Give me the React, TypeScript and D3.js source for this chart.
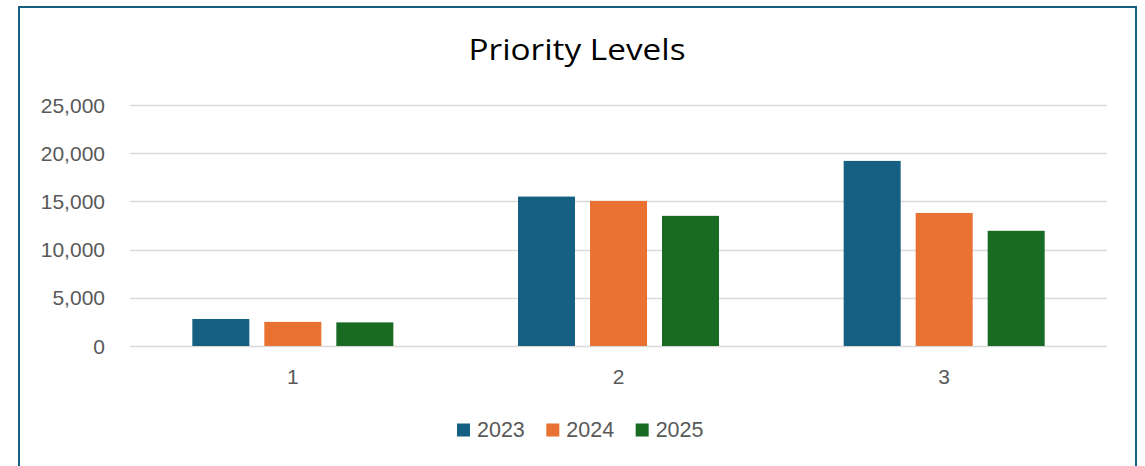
import React from "react";
import * as d3 from "d3";

const categories = ["1", "2", "3"];
const seriesNames = ["2023", "2024", "2025"];
const values2023 = [2800, 15500, 19200];
const values2024 = [2500, 15050, 13800];
const values2025 = [2450, 13500, 11950];
const seriesValues = [values2023, values2024, values2025];
const colors = ["#156082", "#E97132", "#196B24"];
const yTicks = [0, 5000, 10000, 15000, 20000, 25000];

const W = 1145;
const H = 466;
const plotLeft = 130;
const plotRight = 1107;
const plotTop = 105;
const plotBottom = 346;
const font = "'Liberation Sans', Arial, sans-serif";
const titleFont = "'Open Sans', 'Liberation Sans', sans-serif";

export default function App() {
  const y = d3.scaleLinear().domain([0, 25000]).range([plotBottom, plotTop]);
  const x0 = d3.scaleBand<string>().domain(categories).range([plotLeft, plotRight]).padding(0);
  const groupW = 201;
  const x1 = d3
    .scaleBand<string>()
    .domain(seriesNames)
    .range([0, groupW])
    .paddingInner(15 / 72)
    .paddingOuter(0);
  const off = (x0.bandwidth() - groupW) / 2;
  const fmt = d3.format(",");

  const legendX = d3.scaleBand<string>().domain(seriesNames).range([457, 725]);

  return (
    <svg
      width={W}
      height={H}
      style={{ position: "absolute", left: 0, top: 0, background: "#fff" }}
    >
      <rect x={0} y={0} width={W} height={H} fill="#fff" />
      <rect x={19} y={7} width={1117} height={500} fill="#fff" stroke="#156082" strokeWidth={2} />
      <text
        x={577}
        y={60}
        textAnchor="middle"
        fontFamily={titleFont}
        fontSize={29}
        fill="#000"
        textLength={217}
        lengthAdjust="spacingAndGlyphs"
      >
        Priority Levels
      </text>
      {yTicks.map((t) => (
        <g key={t}>
          <line
            x1={plotLeft}
            x2={plotRight}
            y1={Math.round(y(t)) + 0.5}
            y2={Math.round(y(t)) + 0.5}
            stroke="#d9d9d9"
            strokeWidth={1.5}
          />
          <text
            x={105}
            y={y(t) + 7.5}
            textAnchor="end"
            fontFamily={font}
            fontSize={21}
            fill="#595959"
          >
            {fmt(t)}
          </text>
        </g>
      ))}
      {categories.map((c, ci) => (
        <g key={c}>
          {seriesNames.map((s, si) => {
            const v = seriesValues[si][ci];
            const bx = (x0(c) as number) + off + (x1(s) as number);
            return (
              <rect
                key={s}
                x={bx}
                y={y(v)}
                width={x1.bandwidth()}
                height={y(0) - y(v)}
                fill={colors[si]}
              />
            );
          })}
          <text
            x={(x0(c) as number) + x0.bandwidth() / 2}
            y={384}
            textAnchor="middle"
            fontFamily={font}
            fontSize={21}
            fill="#595959"
          >
            {c}
          </text>
        </g>
      ))}
      {seriesNames.map((s, si) => {
        const lx = legendX(s) as number;
        return (
          <g key={s}>
            <rect x={lx} y={423.5} width={13} height={13} fill={colors[si]} />
            <text x={lx + 20} y={436.5} fontFamily={font} fontSize={21.5} fill="#595959">
              {s}
            </text>
          </g>
        );
      })}
    </svg>
  );
}
